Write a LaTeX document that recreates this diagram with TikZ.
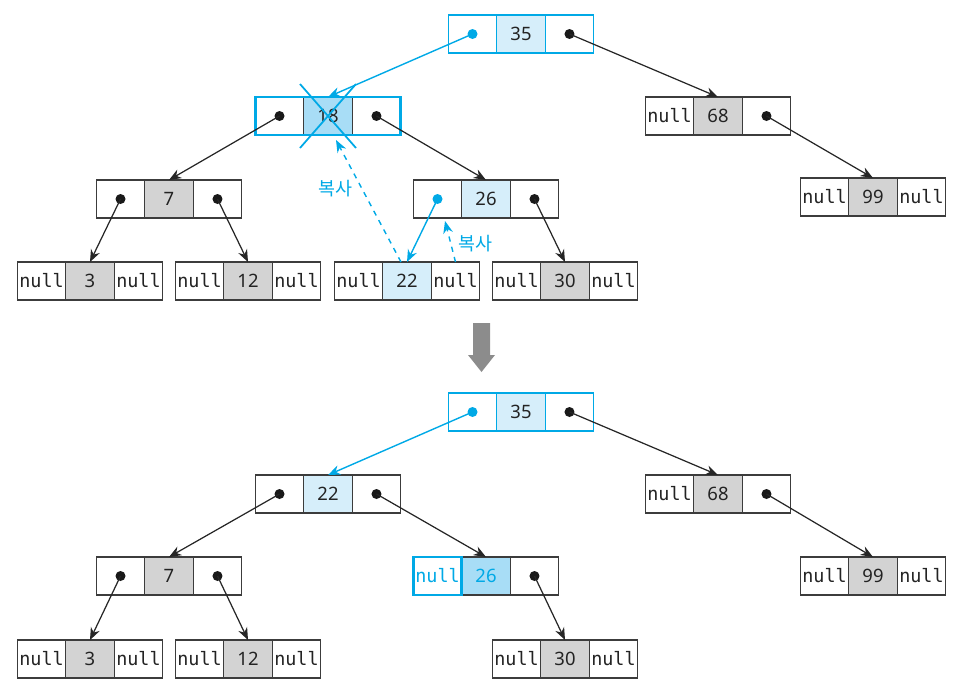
\documentclass[tikz,border=0pt]{standalone}
\usepackage{fontspec}
\setmainfont{Noto Sans}
\setmonofont{DejaVu Sans Mono}
\newfontfamily\kor{Noto Sans CJK KR}
\usetikzlibrary{positioning, arrows.meta}
\definecolor{cblue}{RGB}{0,169,230}
\definecolor{lblue}{RGB}{214,238,250}
\definecolor{dblue}{RGB}{168,221,246}
\definecolor{gfill}{RGB}{211,211,211}
\definecolor{linec}{RGB}{60,60,60}
\definecolor{txt}{RGB}{35,35,35}
\tikzset{>={Stealth[length=7pt,width=5.5pt]}}
\tikzset{
  cell/.style={draw=linec, line width=0.8pt, minimum width=0.97cm, minimum height=0.76cm,
    inner sep=0pt, outer sep=0pt, text=txt, font=\fontsize{10.5}{11}\selectfont},
  gcell/.style={cell, fill=gfill},
  lbcell/.style={cell, fill=lblue},
  nil/.style={cell, execute at begin node={\ttfamily null}},
  ptr/.style={cell, path picture={\fill[black!90] (path picture bounding box.center) circle (0.1cm);}},
  bptr/.style={cell, path picture={\fill[cblue] (path picture bounding box.center) circle (0.1cm);}},
  conn/.style={->, black!85, line width=0.7pt},
  bconn/.style={->, cblue, line width=0.8pt},
  cpy/.style={text=cblue, inner sep=1pt, font=\kor\fontsize{10.5}{11}\selectfont}
}
% one tree node = three cells: name, x, y, left, middle, text, right
\newcommand{\tnode}[7]{%
  \node[#5] (#1-m) at (#2,#3) {#6};
  \node[#4, left=0pt of #1-m] (#1-l) {};
  \node[#7, right=0pt of #1-m] (#1-r) {};
}

\begin{document}
\begin{tikzpicture}[x=0.02cm, y=-0.02cm]
  \useasboundingbox (0,0) rectangle (974,700);

  % before
  \tnode{n35}{521}{34}{bptr,draw=cblue}{lbcell,draw=cblue}{35}{ptr,draw=cblue}
  \tnode{n18}{328}{116}{ptr}{cell,fill=dblue}{18}{ptr}
  \draw[cblue, line width=1.5pt] (n18-l.north west) rectangle (n18-r.south east);
  \draw[cblue, line width=1pt] (300,84) -- (356,148) (356,84) -- (300,148);
  \tnode{n68}{718}{116}{nil}{gcell}{68}{ptr}
  \tnode{n7}{169}{199}{ptr}{gcell}{7}{ptr}
  \tnode{n26}{486}{199}{bptr}{lbcell}{26}{ptr}
  \tnode{n99}{873}{197}{nil}{gcell}{99}{nil}
  \tnode{n3}{90}{281}{nil}{gcell}{3}{nil}
  \tnode{n12}{248}{281}{nil}{gcell}{12}{nil}
  \tnode{n22}{407}{281}{nil}{lbcell}{22}{nil}
  \tnode{n30}{565}{281}{nil}{gcell}{30}{nil}

  \draw[bconn] (n35-l.center) -- (n18-m.north);
  \draw[conn] (n35-r.center) -- (n68-m.north);
  \draw[conn] (n18-l.center) -- (n7-m.north);
  \draw[conn] (n18-r.center) -- (n26-m.north);
  \draw[conn] (n68-r.center) -- (n99-m.north);
  \draw[conn] (n7-l.center) -- (n3-m.north);
  \draw[conn] (n7-r.center) -- (n12-m.north);
  \draw[bconn] (n26-l.center) -- (n22-m.north);
  \draw[conn] (n26-r.center) -- (n30-m.north);
  \draw[bconn, dashed] ([xshift=-0.12cm]n22-m.north) -- ([xshift=0.16cm, yshift=-0.1cm]n18-m.south)
    node[cpy, pos=0.6, left=4pt] (c1) {복사};
  \draw[bconn, dashed] (n22-r.north) -- ([xshift=0.15cm, yshift=-0.06cm]n26-l.south)
    node[cpy, pos=0.45, right=3pt] (c2) {복사};

  % gray arrow
  \fill[black!45] (473,323) -- (490,323) -- (490,355) -- (495,355) -- (481.5,372)
    -- (468,355) -- (473,355) -- cycle;

  % after
  \tnode{m35}{521}{412}{bptr,draw=cblue}{lbcell,draw=cblue}{35}{ptr,draw=cblue}
  \tnode{m22}{328}{494}{ptr}{lbcell}{22}{ptr}
  \tnode{m68}{718}{494}{nil}{gcell}{68}{ptr}
  \tnode{m7}{169}{576}{ptr}{gcell}{7}{ptr}
  \tnode{m26}{486}{576}{nil,draw=cblue,line width=1.5pt,text=cblue}{cell,fill=dblue,text=cblue}{26}{ptr}
  \tnode{m99}{873}{576}{nil}{gcell}{99}{nil}
  \tnode{m3}{90}{659}{nil}{gcell}{3}{nil}
  \tnode{m12}{248}{659}{nil}{gcell}{12}{nil}
  \tnode{m30}{565}{659}{nil}{gcell}{30}{nil}

  \draw[bconn] (m35-l.center) -- (m22-m.north);
  \draw[conn] (m35-r.center) -- (m68-m.north);
  \draw[conn] (m22-l.center) -- (m7-m.north);
  \draw[conn] (m22-r.center) -- (m26-m.north);
  \draw[conn] (m68-r.center) -- (m99-m.north);
  \draw[conn] (m7-l.center) -- (m3-m.north);
  \draw[conn] (m7-r.center) -- (m12-m.north);
  \draw[conn] (m26-r.center) -- (m30-m.north);
\end{tikzpicture}
\end{document}
